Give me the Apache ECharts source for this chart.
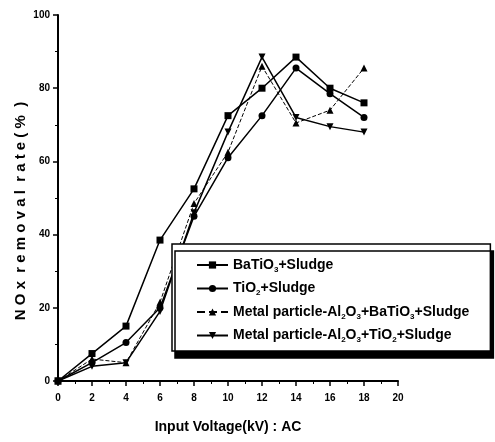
<!DOCTYPE html>
<html><head><meta charset="utf-8">
<script src="https://cdn.jsdelivr.net/npm/echarts@6/dist/echarts.min.js"></script>
<style>html,body{margin:0;padding:0;background:#fff}#c{width:495px;height:442px}</style>
</head><body><div id="c"></div>
<script>
const voltages = [0, 2, 4, 6, 8, 10, 12, 14, 16, 18];
const seriesNames = ['BaTiO3+Sludge', 'TiO2+Sludge', 'Metal particle-Al2O3+BaTiO3+Sludge', 'Metal particle-Al2O3+TiO2+Sludge'];
const baTiO3 = [0, 7.5, 15, 38.5, 52.5, 72.5, 80, 88.5, 80, 76];
const tiO2 = [0, 5, 10.5, 20, 45, 61, 72.5, 85.5, 78.5, 72];
const metalBaTiO3 = [0, 6, 5, 21.5, 48.5, 62.5, 86, 70.5, 74, 85.5];
const metalTiO2 = [0, 4, 5, 19, 46, 68, 88.5, 72, 69.5, 68];
const yTicks = [0, 20, 40, 60, 80, 100];
const xTicks = [0, 2, 4, 6, 8, 10, 12, 14, 16, 18, 20];
const yTitle = 'N O x  r e m o v a l  r a t e ( %  )';

const font = 'Liberation Sans';
const pair = arr => voltages.map((v, i) => [v, arr[i]]);
const mk = (name, data, symbol, rot, lineType, lw) => ({
  name, type: 'line', data: pair(data), symbol, symbolSize: 7, symbolRotate: rot,
  lineStyle: { color: '#000', width: lw, type: lineType },
  itemStyle: { color: '#000' }, z: 3
});
const chart = echarts.init(document.getElementById('c'));
chart.setOption({
  animation: false,
  grid: { left: 58, right: 97, top: 15, bottom: 61 },
  graphic: [{
    type: 'text', x: 21, y: 211, rotation: Math.PI / 2,
    style: { text: yTitle, fontFamily: font, fontWeight: 'bold', fontSize: 15, fill: '#000',
      align: 'center', verticalAlign: 'middle' }
  }],
  xAxis: {
    type: 'value', min: 0, max: 20, interval: 2,
    name: 'Input Voltage(kV) : AC', nameLocation: 'middle', nameGap: 39,
    nameTextStyle: { fontFamily: font, fontWeight: 'bold', fontSize: 14, color: '#000' },
    axisLine: { lineStyle: { color: '#000', width: 2 } },
    axisTick: { length: 5, lineStyle: { color: '#000', width: 1.5 } },
    minorTick: { show: true, splitNumber: 2, length: 3, lineStyle: { color: '#000' } },
    splitLine: { show: false },
    axisLabel: { fontFamily: font, fontWeight: 'bold', fontSize: 10, color: '#000', margin: 12,
      formatter: v => xTicks.includes(v) ? String(v) : '' }
  },
  yAxis: {
    type: 'value', min: 0, max: 100, interval: 20,
    axisLine: { show: true, lineStyle: { color: '#000', width: 2 } },
    axisTick: { show: true, length: 5, lineStyle: { color: '#000', width: 1.5 } },
    minorTick: { show: true, splitNumber: 2, length: 3, lineStyle: { color: '#000' } },
    splitLine: { show: false },
    axisLabel: { fontFamily: font, fontWeight: 'bold', fontSize: 10, color: '#000', margin: 8,
      formatter: v => yTicks.includes(v) ? String(v) : '' }
  },
  legend: {
    orient: 'vertical', left: 172, top: 244, width: 330,
    padding: [14, 21, 7, 24], itemGap: 8, itemWidth: 31, itemHeight: 9,
    backgroundColor: '#fff', borderColor: '#000', borderWidth: 1.5, borderRadius: 0,
    shadowColor: '#000', shadowBlur: 0, shadowOffsetX: 3, shadowOffsetY: 7,
    data: seriesNames,
    formatter: n => n.replace(/(\d)/g, '{sub|$1}'),
    textStyle: { fontFamily: font, fontWeight: 'bold', fontSize: 14, color: '#000',
      rich: { sub: { fontFamily: font, fontWeight: 'bold', fontSize: 8, color: '#000', padding: [9, 0, 0, 0] } } }
  },
  series: [
    mk(seriesNames[0], baTiO3, 'rect', 0, 'solid', 1.5),
    mk(seriesNames[1], tiO2, 'circle', 0, 'solid', 1.5),
    mk(seriesNames[2], metalBaTiO3, 'triangle', 0, 'dashed', 1),
    mk(seriesNames[3], metalTiO2, 'triangle', 180, 'solid', 1.5)
  ]
});
</script></body></html>
